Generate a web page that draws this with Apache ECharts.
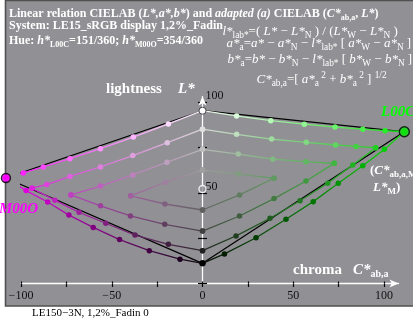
<!DOCTYPE html>
<html><head><meta charset="utf-8">
<script src="https://cdn.jsdelivr.net/npm/echarts@6/dist/echarts.min.js"></script>
<style>html,body{margin:0;padding:0;background:#fff}#c{width:413px;height:320px}</style>
</head><body><div id="c"></div>
<script>
// ---------- data (C*ab,a , L*) ----------
const grayL = [95.2, 85.0, 73.9, 62.5, 52.1, 40.5, 28.9, 18.1, 11.1]; // W ... K on the grey axis (C*=0)
const tipM = [-108.3, 58.1];  // M00O
const tipG = [111.2, 83.6];   // L00C

// magenta side (negative chroma): upper arms from grey outward, lower arms from vertex toward grey
const mUp0 = [[-18.8,87.9],[-38.1,80.7],[-56.2,74.3],[-73.0,68.8],[-87.7,64.2],[-98.7,60.9]];
const mLo0 = [[-97.2,51.2],[-85.3,44.9],[-73.6,37.7],[-60.2,30.9],[-45.7,24.2],[-29.3,18.1],[-12.4,13.4]];
const mUp1 = [[-19.4,77.6],[-38.4,70.5],[-56.2,64.2],[-73.0,59.0],[-85.8,54.5],[-93.9,52.5]];
const mLo1 = [[-81.3,45.8],[-68.0,39.2],[-53.3,33.2],[-37.2,26.7],[-18.8,21.6]];
const mUp2 = [[-19.6,66.8],[-38.4,59.8],[-56.2,53.7],[-72.5,48.8]];
const mLo2 = [[-56.2,42.8],[-39.7,37.2],[-20.8,32.6]];
const mUp3 = [[-20.3,55.8],[-39.6,48.3]];
const mLo3 = [[-20.7,43.8]];

// green side (positive chroma)
const gUp0 = [[18.8,92.3],[37.6,89.7],[56.1,87.8],[73.0,86.2],[88.3,85.0],[100.6,84.2]];
const gLo0 = [[100.2,73.9],[88.3,64.9],[74.8,55.2],[61.0,45.1],[46.0,35.4],[29.5,25.2],[12.1,16.3]];
const gUp1 = [[18.8,82.2],[38.1,79.6],[57.2,77.8],[73.3,76.3],[84.6,75.5],[95.4,74.8]];
const gLo1 = [[82.8,65.3],[69.0,55.2],[53.7,45.6],[37.2,35.9],[18.5,26.2]];
const gUp2 = [[19.7,71.3],[38.7,68.5],[57.0,67.1],[72.6,66.2]];
const gLo2 = [[57.0,56.5],[39.4,46.8],[20.4,37.2]];
const gUp3 = [[19.8,60.3],[39.4,58.0]];
const gLo3 = [[20.4,48.8]];

const xTicks = [-100,-75,-50,-25,0,25,50,75,100];
const xLabels = [-100,-50,0,50,100];
const yTicks = [0,25,50,75,100];
const yLabels = [50,100];

const hueM = [255,0,255];
const hueG = [0,235,0];

// ---------- helpers ----------
const SERIF = '"Liberation Serif","Times New Roman",serif';
const BG = '#919195';
function rgb(c){return 'rgb('+c.map(v=>Math.round(Math.max(0,Math.min(255,v)))).join(',')+')';}
function lerp(a,b,t){return a.map((v,i)=>v+(b[i]-v)*t);}
function grayCol(i){const v=255*(1-i/8);return [v,v,v];}
function vertexCol(i,hue){const w=i/8,c=1-2*i/8;return hue.map(h=>255*w+h*c);}

const series = [];
const onMain = {xAxisIndex:0, yAxisIndex:2};
function blackLine(tip){
  series.push(Object.assign({type:'line', clip:false, silent:true, symbol:'none', z:2,
    data:[[0,grayL[0]], tip, [0,grayL[8]]],
    lineStyle:{color:'#000', width:1.2}}, onMain));
}
blackLine(tipM); blackLine(tipG);

function armSeries(pts, c0, c1, leftIsStart){
  const n = pts.length;
  const data = pts.map((p,k)=>({value:p, itemStyle:{color:rgb(lerp(c0,c1,n>1?k/(n-1):0))}}));
  const left = leftIsStart ? c0 : c1, right = leftIsStart ? c1 : c0;
  series.push(Object.assign({type:'line', clip:false, silent:true, z:3,
    symbol:'circle', symbolSize:5.5, showSymbol:true,
    data,
    lineStyle:{width:1.3, color:new echarts.graphic.LinearGradient(0,0,1,0,[
      {offset:0,color:rgb(lerp(left,[128,128,128],0.08))},{offset:1,color:rgb(lerp(right,[128,128,128],0.08))}])}}, onMain));
}
function side(ups, los, tip, hue, neg){
  for(let i=0;i<4;i++){
    const up = [[0,grayL[i]]].concat(ups[i]);
    if(i===0) up.push(tip);
    const vtx = up[up.length-1];
    const lo = [vtx].concat(los[i]).concat([[0,grayL[8-i]]]);
    const cg = grayCol(i), cv = vertexCol(i,hue), cg2 = grayCol(8-i);
    armSeries(up, cg, cv, !neg);
    armSeries(lo, cv, cg2, neg);
  }
}
side([mUp0,mUp1,mUp2,mUp3],[mLo0,mLo1,mLo2,mLo3],tipM,hueM,true);
side([gUp0,gUp1,gUp2,gUp3],[gLo0,gLo1,gLo2,gLo3],tipG,hueG,false);

series.push(Object.assign({type:'scatter', clip:false, silent:true, z:5, data:[
  {value:[0,grayL[0]], symbolSize:7, itemStyle:{color:'#fff', borderColor:'#000', borderWidth:0.8}},
  {value:[0,grayL[4]], symbolSize:7, itemStyle:{color:BG, borderColor:'#fff', borderWidth:1.4}},
  {value:[0,grayL[8]], symbolSize:6.5, itemStyle:{color:'#000'}},
  {value:tipM, symbolSize:9, itemStyle:{color:'#ff00ff', borderColor:'#000', borderWidth:1.4}},
  {value:tipG, symbolSize:10, itemStyle:{color:'#10e010', borderColor:'#000', borderWidth:1.4}}
]}, onMain));

// ---------- text ----------
function rs(o){return Object.assign({fontFamily:SERIF, fill:'#fff', fontSize:12, lineHeight:16}, o);}
const richBold = {
  b: rs({fontWeight:'bold'}),
  bi: rs({fontWeight:'bold', fontStyle:'italic'}),
  bs: rs({fontWeight:'bold', fontSize:8, lineHeight:6, verticalAlign:'bottom'})
};
const richN = {
  n: rs({fontSize:13, lineHeight:17}),
  i: rs({fontSize:13, lineHeight:17, fontStyle:'italic'}),
  s: rs({fontSize:9.3, lineHeight:6, verticalAlign:'bottom'}),
  p: rs({fontSize:9.3, lineHeight:11, verticalAlign:'top'})
};
const richBig = {
  b: rs({fontWeight:'bold', fontSize:15, lineHeight:19}),
  bi: rs({fontWeight:'bold', fontStyle:'italic', fontSize:15, lineHeight:19}),
  bs: rs({fontWeight:'bold', fontSize:10, lineHeight:7, verticalAlign:'bottom'})
};
const richMid = {
  b: rs({fontWeight:'bold', fontSize:13, lineHeight:17}),
  bi: rs({fontWeight:'bold', fontStyle:'italic', fontSize:13, lineHeight:17}),
  bs: rs({fontWeight:'bold', fontSize:9, lineHeight:6, verticalAlign:'bottom'})
};
function T(x,y,text,rich){
  return {type:'text', x:x, y:y, z:100, silent:true,
    style:{text:text, rich:rich, fontFamily:SERIF, fill:'#fff', fontSize:12, align:'left', verticalAlign:'middle'}};
}
const M = ' \u2212 ';
const graphic = [
  {type:'rect', z:-100, silent:true, shape:{x:5.5, y:0.5, width:420, height:305.5},
   style:{fill:BG, stroke:'#505050', lineWidth:1.6}},
  T(9,14.3,'{b|Linear relation CIELAB (}{bi|L*,a*,b*}{b|) and }{bi|adapted (a)}{b| CIELAB (}{bi|C*}{bs|ab,a}{b|, }{bi|L*}{b|)}',richBold),
  T(9,26,'{b|System: LE15_sRGB display 1,2%_Fadin}',richBold),
  T(9,41.3,'{b|Hue: }{bi|h*}{bs|L00C}{b|=151/360; }{bi|h*}{bs|M00O}{b|=354/360}',richBold),
  T(222.5,32,'{i|l*}{s|lab*}{n|=( }{i|L*}{n|'+M+'}{i|L*}{s|N}{n| ) / (}{i|L*}{s|W}{n|'+M+'}{i|L*}{s|N}{n| )}',richN),
  T(226.5,43.7,'{i|a*}{s|a}{n|=}{i|a*}{n|'+M+'}{i|a*}{s|N}{n|'+M+'}{i|l*}{s|lab*}{n| [ }{i|a*}{s|W}{n|'+M+'}{i|a*}{s|N}{n| ]}',richN),
  T(227.5,60,'{i|b*}{s|a}{n|=}{i|b*}{n|'+M+'}{i|b*}{s|N}{n|'+M+'}{i|l*}{s|lab*}{n| [ }{i|b*}{s|W}{n|'+M+'}{i|b*}{s|N}{n| ]}',richN),
  T(256.5,79.3,'{i|C*}{s|ab,a}{n|=[ }{i|a*}{s|a}{p| 2}{n| + }{i|b*}{s|a}{p| 2}{n| ] }{p|1/2}',richN),
  T(106,89.3,'{b|lightness}',richBig),
  T(178,89.3,'{bi|L*}',richBig),
  T(293,270,'{b|chroma}',richBig),
  T(353,270,'{bi|C*}{bs|ab,a}',richBig),
  T(370,171,'{b|(}{bi|C*}{bs|ab,a,M}',richMid),
  T(373,188,'{bi|L*}{bs|M}{b|)}',richMid),
  T(381,112,'{bi|L00C}',{bi: rs({fontWeight:'bold', fontStyle:'italic', fontSize:15, lineHeight:19, fill:'#00ff00'})}),
  T(-1,209,'{bi|M00O}',{bi: rs({fontWeight:'bold', fontStyle:'italic', fontSize:15, lineHeight:19, fill:'#ff00ff'})}),
  T(32,313.5,'{n|LE150\u22123N, 1,2%_Fadin 0}',{n: rs({fontSize:11, lineHeight:14, fill:'#000'})})
];

// ---------- axes ----------
const axisFont = {fontFamily:SERIF, fontSize:12, color:'#111'};
const GT = 96.555, GH = 186.945;
const option = {
  animation:false,
  backgroundColor:'#ffffff',
  grid:[
    {left:21, top:GT, width:377.52, height:GH, containLabel:false, outerBoundsMode:'none'},   // main plot
    {left:202.5, top:GT, width:100, height:GH, containLabel:false, outerBoundsMode:'none'}    // carries the L* axis at C*=0
  ],
  xAxis:[
    {type:'value', gridIndex:0, min:-100, max:108, position:'bottom',
     axisLine:{show:true, onZero:false, symbol:['none','arrow'], symbolSize:[6,9], lineStyle:{color:'#fff', width:1.3}},
     axisTick:{show:true, customValues:xTicks, length:3.5, lineStyle:{color:'#000', width:1.2}},
     axisLabel:Object.assign({show:true, customValues:xLabels, margin:6,
       formatter:v=> v<0 ? '\u2212'+(-v) : String(v)}, axisFont),
     splitLine:{show:false}},
    {type:'value', gridIndex:0, min:-100, max:108, position:'bottom',
     axisLine:{show:false, onZero:false},
     axisTick:{show:true, inside:true, customValues:xTicks, length:2, lineStyle:{color:'#000', width:1.2}},
     axisLabel:{show:false}, splitLine:{show:false}},
    {type:'value', gridIndex:1, min:0, max:1, show:false}
  ],
  yAxis:[
    {type:'value', gridIndex:1, min:0, max:103, position:'left',
     axisLine:{show:true, onZero:false, symbol:['none','arrow'], symbolSize:[6,9], lineStyle:{color:'#fff', width:1.3}},
     axisTick:{show:true, customValues:yTicks, length:4.5, lineStyle:{color:'#000', width:1.2}},
     axisLabel:Object.assign({show:true, customValues:yLabels, inside:true, margin:3, verticalAlign:'bottom'}, axisFont),
     splitLine:{show:false}},
    {type:'value', gridIndex:1, min:0, max:103, position:'left',
     axisLine:{show:false, onZero:false},
     axisTick:{show:true, inside:true, customValues:yTicks, length:4.5, lineStyle:{color:'#000', width:1.2}},
     axisLabel:{show:false}, splitLine:{show:false}},
    {type:'value', gridIndex:0, min:0, max:103, show:false}
  ],
  series: series,
  graphic: graphic
};
const chart = echarts.init(document.getElementById('c'), null, {renderer:'canvas', width:413, height:320});
chart.setOption(option);
</script></body></html>
